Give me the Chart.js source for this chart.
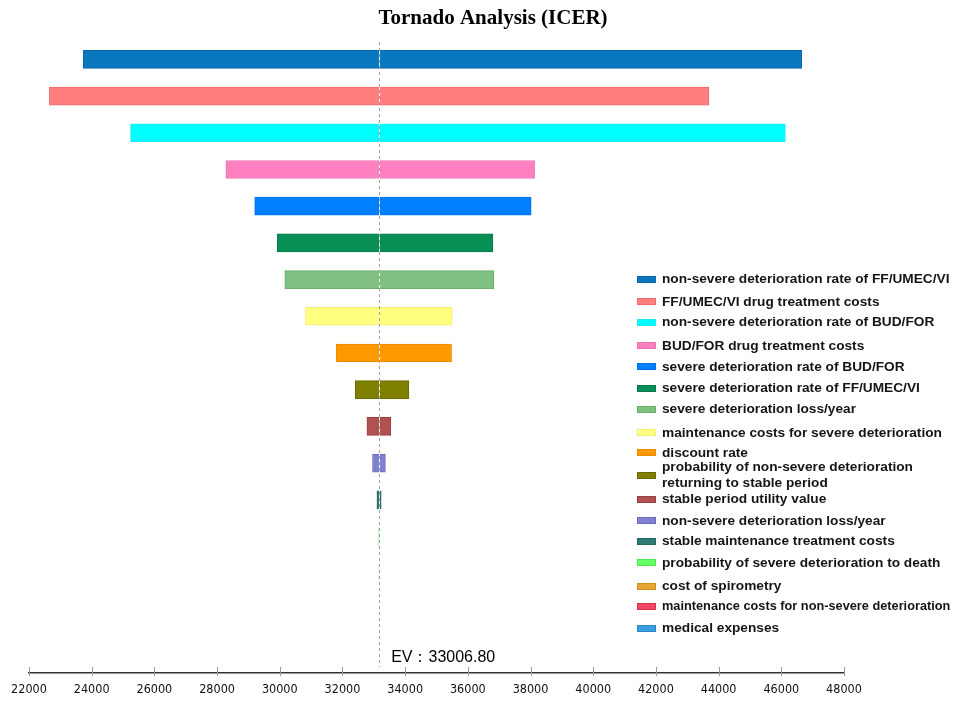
<!DOCTYPE html>
<html>
<head>
<meta charset="utf-8">
<script src="https://cdn.jsdelivr.net/npm/chart.js@4.4.1/dist/chart.umd.min.js"></script>
<style>
  html, body { margin: 0; padding: 0; background: #fff; }
  #wrap { position: relative; width: 957px; height: 702px; overflow: hidden; }
  #c { position: absolute; left: 0; top: 0; }
  .lg-item { position: absolute; left: 637px; font-family: "Liberation Sans", Arial, sans-serif; font-weight: bold; font-size: 13.7px; color: #151515; white-space: nowrap; }
  .lg-sw { position: absolute; left: 0; width: 17px; height: 5px; border: 1px solid; }
  .lg-tx { position: absolute; left: 25px; line-height: 16px; }
</style>
</head>
<body>
<div id="wrap">
  <canvas id="c" width="957" height="702"></canvas>
  <div id="legend"></div>
</div>
<script>
// ---------------- data ----------------
const categories = [
  'non-severe deterioration rate of FF/UMEC/VI',
  'FF/UMEC/VI drug treatment costs',
  'non-severe deterioration rate of BUD/FOR',
  'BUD/FOR drug treatment costs',
  'severe deterioration rate of BUD/FOR',
  'severe deterioration rate of FF/UMEC/VI',
  'severe deterioration loss/year',
  'maintenance costs for severe deterioration',
  'discount rate',
  ['probability of non-severe deterioration', 'returning to stable period'],
  'stable period utility value',
  'non-severe deterioration loss/year',
  'stable maintenance treatment costs',
  'probability of severe deterioration to death',
  'cost of spirometry',
  'maintenance costs for non-severe deterioration',
  'medical expenses'
];
const lowValues  = [23730, 22650, 25240, 28280, 29200, 29920, 30160, 30820, 31800, 32410, 32780, 32960, 33100, 33155, 33165, 33170, 33170];
const highValues = [46650, 43690, 46130, 38130, 38020, 36800, 36830, 35500, 35480, 34120, 33540, 33370, 33235, 33185, 33175, 33170, 33170];
const colors = ['#0a78be', '#ff7f7f', '#00ffff', '#ff80c0', '#0080ff', '#088f56', '#80c080', '#ffff80', '#ff9900', '#808000', '#b05252', '#8080d0', '#2f7a72', '#66ff66', '#e8a535', '#f04862', '#3a9fe0'];
const borderColors = ['#0868a8', '#f06868', '#20e8f0', '#f070b0', '#0070e8', '#067a48', '#6aae6a', '#f0f070', '#f08800', '#6a6a00', '#9a4040', '#6a6ac0', '#226660', '#50e850', '#d09020', '#d83050', '#2a88c8'];
const xMin = 22000, xMax = 48000, xStep = 2000;
const evValue = 33006.80;
const evLineValue = 33170; // where the dashed EV line is drawn in the figure
const titleText = 'Tornado Analysis (ICER)';
const evLabel = 'EV：' + evValue.toFixed(2);

// ---------------- layout (legend rows, px) ----------------
const legendCenters = [279.3, 301.5, 322.3, 345.5, 366.7, 388.3, 409.3, 432.5, 452.7, 475.3, 499, 520.7, 541, 562.7, 586, 606, 628.3];
const legendMaxWidth = 288;

// ---------------- plugins ----------------
const overlay = {
  id: 'overlay',
  afterDatasetsDraw(chart) {
    const { ctx, chartArea, scales } = chart;
    const x = Math.round(scales.x.getPixelForValue(evLineValue)) + 0.5;
    ctx.save();
    ctx.lineWidth = 1;
    ctx.strokeStyle = 'rgba(255,255,255,0.9)';
    ctx.beginPath(); ctx.moveTo(x, chartArea.top + 1); ctx.lineTo(x, chartArea.bottom - 6); ctx.stroke();
    ctx.strokeStyle = '#a0a0a0';
    ctx.setLineDash([3, 3]);
    ctx.beginPath(); ctx.moveTo(x, chartArea.top + 1); ctx.lineTo(x, chartArea.bottom - 6); ctx.stroke();
    ctx.restore();
  },
  afterDraw(chart) {
    const { ctx, chartArea, scales } = chart;
    const xs = scales.x;
    ctx.save();
    // tick marks crossing axis
    ctx.strokeStyle = '#9a9a9a';
    ctx.lineWidth = 1;
    xs.ticks.forEach(t => {
      const px = Math.round(xs.getPixelForValue(t.value)) + 0.5;
      ctx.beginPath(); ctx.moveTo(px, chartArea.bottom - 6); ctx.lineTo(px, chartArea.bottom + 3); ctx.stroke();
    });
    // title
    ctx.fillStyle = '#000';
    ctx.font = 'bold 21px "Liberation Serif", "Times New Roman", serif';
    ctx.textAlign = 'center';
    ctx.textBaseline = 'middle';
    ctx.fillText(titleText, 493, 19);
    // EV label
    ctx.font = '16px "Liberation Sans", Arial, sans-serif';
    ctx.textAlign = 'left';
    ctx.textBaseline = 'alphabetic';
    ctx.fillText(evLabel, xs.getPixelForValue(evLineValue) + 12, 662);
    ctx.restore();
  }
};

// ---------------- chart ----------------
const chart = new Chart(document.getElementById('c'), {
  type: 'bar',
  data: {
    datasets: [{
      data: categories.map((c, i) => ({ x: [lowValues[i], highValues[i]], y: i })),
      backgroundColor: colors,
      borderColor: borderColors,
      borderWidth: 1,
      borderSkipped: false,
      barThickness: 18
    }]
  },
  options: {
    indexAxis: 'y',
    responsive: false,
    animation: false,
    devicePixelRatio: 1,
    layout: { padding: { top: 41, left: 29, right: 113, bottom: 0 } },
    plugins: { legend: { display: false }, title: { display: false }, tooltip: { enabled: false } },
    scales: {
      y: { type: 'linear', reverse: true, min: -0.5, max: 16.72, display: false, offset: false, grid: { offset: false } },
      x: {
        type: 'linear', min: xMin, max: xMax,
        grid: { display: false, drawTicks: false },
        border: { display: true, color: '#333', width: 1.5 },
        afterFit(scale) { scale.height = 29; },
        ticks: {
          stepSize: xStep, autoSkip: false, maxRotation: 0, padding: 9,
          color: '#111',
          font: { family: '"Liberation Sans Narrow", "DejaVu Sans Condensed", "Arial Narrow", sans-serif', size: 12.5 },
          callback: v => String(v)
        }
      }
    }
  },
  plugins: [overlay]
});

// ---------------- legend (HTML) ----------------
const lg = document.getElementById('legend');
categories.forEach((c, i) => {
  const lines = Array.isArray(c) ? c : [c];
  const item = document.createElement('div');
  item.className = 'lg-item';
  const h = lines.length * 16;
  item.style.top = (legendCenters[i] - h / 2) + 'px';
  item.style.height = h + 'px';
  const sw = document.createElement('div');
  sw.className = 'lg-sw';
  sw.style.background = colors[i];
  sw.style.borderColor = borderColors[i];
  sw.style.top = (h / 2 - 3.5) + 'px';
  const tx = document.createElement('div');
  tx.className = 'lg-tx';
  tx.innerHTML = lines.join('<br>');
  item.appendChild(sw); item.appendChild(tx);
  lg.appendChild(item);
  const w = tx.getBoundingClientRect().width;
  if (w > legendMaxWidth) {
    tx.style.fontSize = (13.7 * legendMaxWidth / w).toFixed(2) + 'px';
  }
});
</script>
</body>
</html>
